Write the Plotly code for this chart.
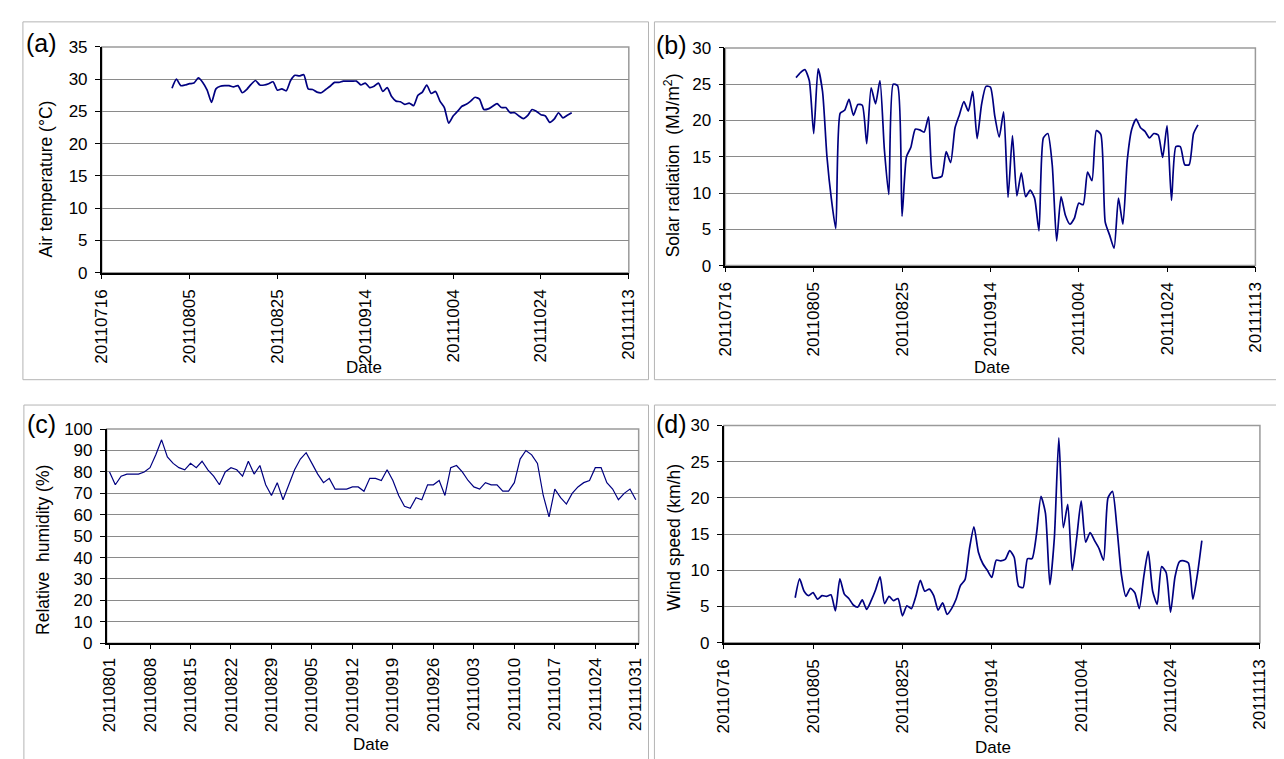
import plotly.graph_objects as go
import pandas as pd

W, H = 1284, 759

# ---------------- data ----------------
dates = pd.date_range("2011-08-01", "2011-10-31", freq="D")
date_labels = [d.strftime("%Y%m%d") for d in dates]

air_temp = [
    28.6, 30.0, 29.0, 29.1, 29.3, 29.4, 30.2, 29.5, 28.3, 26.4,
    28.5, 28.9, 29.0, 29.0, 28.8, 29.0, 27.9, 28.4, 29.2, 29.8,
    29.1, 29.1, 29.3, 29.6, 28.3, 28.5, 28.2, 29.8, 30.6, 30.5,
    30.7,
    28.5, 28.4, 28.0, 27.9, 28.4, 28.9, 29.5, 29.5, 29.7, 29.7,
    29.7, 29.7, 29.1, 29.4, 28.7, 28.9, 29.4, 28.1, 28.7, 27.3,
    26.6, 26.5, 26.1, 26.3, 25.9, 27.5, 28.0, 29.1, 27.8, 28.1,
    26.6, 25.6, 23.2, 24.3, 25.0, 25.8, 26.1, 26.6, 27.2, 26.9,
    25.3, 25.4, 25.8, 26.2, 25.6, 25.6, 24.8, 24.8, 24.3, 23.9,
    24.4, 25.3, 25.0, 24.5, 24.3, 23.3, 23.8, 24.8, 24.0, 24.4,
    24.8,
]

solar = [
    25.9, 26.6, 27.0, 25.5, 18.2, 27.1, 24.0, 15.0, 9.2, 5.1,
    21.0, 21.4, 22.9, 20.7, 22.2, 22.1, 16.8, 24.5, 22.3, 25.5,
    16.0, 9.8, 25.0, 24.8, 6.8, 15.0, 16.3, 18.8, 18.7, 18.4,
    20.5,
    12.1, 12.1, 12.3, 15.7, 14.2, 19.0, 20.8, 22.6, 21.3, 24.0,
    17.5, 22.2, 24.7, 24.6, 20.6, 17.7, 21.2, 9.4, 17.9, 9.6,
    12.8, 9.5, 10.4, 9.3, 4.8, 17.6, 18.2, 13.9, 3.4, 9.5,
    6.9, 5.7, 6.5, 8.6, 8.4, 12.9, 11.7, 18.6, 18.1, 6.0,
    4.2, 2.4, 9.3, 5.7, 14.6, 18.8, 20.2, 19.0, 18.5, 17.6,
    18.2, 18.0, 14.9, 19.3, 9.0, 16.4, 16.4, 13.9, 13.9, 18.2,
    19.4,
]

humidity = [
    80, 74, 78, 79, 79, 79, 80, 82, 88, 95,
    87, 84, 82, 81, 84, 82, 85, 81, 78, 74,
    80, 82, 81, 78, 85, 79, 83, 74, 69, 75,
    67, 74, 81, 86, 89, 84, 79, 75, 77, 72,
    72, 72, 73, 73, 71, 77, 77, 76, 81, 76,
    69, 64, 63, 68, 67, 74, 74, 76, 69, 82,
    83, 80, 76, 73, 72, 75, 74, 74, 71, 71,
    75, 86, 90, 88, 84, 69, 59, 72, 68, 65,
    70, 73, 75, 76, 82, 82, 75, 72, 67, 70,
    72, 67,
]

wind = [
    6.2, 8.8, 7.1, 6.5, 6.9, 6.0, 6.5, 6.4, 6.6, 4.4,
    8.8, 6.7, 6.1, 5.2, 4.9, 5.9, 4.6, 5.8, 7.3, 9.1,
    5.4, 6.4, 5.8, 6.1, 3.7, 5.1, 4.7, 6.4, 8.6, 7.1,
    7.4,
    6.5, 4.5, 5.5, 3.9, 4.7, 6.0, 7.9, 8.7, 13.0, 16.0,
    12.5, 10.9, 10.0, 9.0, 11.4, 11.3, 11.5, 12.7, 11.8, 7.8,
    7.6, 11.6, 11.6, 15.0, 20.2, 17.9, 8.0, 14.5, 28.3, 15.9,
    19.1, 10.0, 14.5, 19.6, 13.9, 15.2, 14.1, 13.0, 11.4, 20.0,
    20.9, 15.9, 9.4, 6.4, 7.5, 6.9, 4.7, 9.1, 12.6, 7.1,
    5.3, 10.5, 9.7, 4.2, 9.1, 11.2, 11.3, 11.0, 6.0, 9.4,
    14.1,
]

date_ticks = ["2011-07-16", "2011-08-05", "2011-08-25", "2011-09-14",
              "2011-10-04", "2011-10-24", "2011-11-13"]
date_tick_labels = ["20110716", "20110805", "20110825", "20110914",
                    "20111004", "20111024", "20111113"]
humidity_tick_labels = date_labels[::7]

# ---------------- style ----------------
FONT = "Liberation Sans, Arial, sans-serif"
LINE = "#000080"
GRID = "#8a8a8a"

def px_x(v):
    return v / W

def px_y(v):
    return 1 - v / H

fig = go.Figure()
fig.add_trace(go.Scatter(x=dates, y=air_temp, mode="lines",
                         line=dict(color=LINE, width=1.7, shape="spline", smoothing=0.6),
                         xaxis="x", yaxis="y"))
fig.add_trace(go.Scatter(x=dates, y=solar, mode="lines",
                         line=dict(color=LINE, width=1.7, shape="spline", smoothing=0.6),
                         xaxis="x2", yaxis="y2"))
fig.add_trace(go.Scatter(x=date_labels, y=humidity, mode="lines",
                         line=dict(color=LINE, width=1.2),
                         xaxis="x3", yaxis="y3"))
fig.add_trace(go.Scatter(x=dates, y=wind, mode="lines",
                         line=dict(color=LINE, width=1.7, shape="spline", smoothing=0.6),
                         xaxis="x4", yaxis="y4"))

def xdate(domain, anchor):
    return dict(domain=domain, anchor=anchor, type="date",
                range=[date_ticks[0], date_ticks[-1]],
                tickmode="array", tickvals=date_ticks, ticktext=date_tick_labels,
                tickangle=-90, ticks="outside", ticklen=5, tickcolor="black",
                showline=True, linecolor="black", linewidth=1.5,
                showgrid=False, zeroline=False,
                tickfont=dict(family=FONT, size=17, color="black"),
                ticklabelstandoff=3, fixedrange=True)

def ylin(domain, anchor, top, step):
    return dict(domain=domain, anchor=anchor, range=[0, top], dtick=step,
                tick0=0, ticks="outside", ticklen=5, tickcolor="black",
                showline=True, linecolor="black", linewidth=1.5,
                showgrid=True, gridcolor=GRID, gridwidth=1, zeroline=False,
                tickfont=dict(family=FONT, size=17, color="black"),
                ticklabelstandoff=4, fixedrange=True)

dom_a_x = [px_x(86), px_x(621)]
dom_a_y = [px_y(262.3), px_y(30.7)]
dom_b_x = [px_x(719), px_x(1257)]
dom_b_y = [px_y(255), px_y(31.7)]
dom_c_x = [px_x(91), px_x(631)]
dom_c_y = [px_y(642.3), px_y(422.7)]
dom_d_x = [px_x(717.3), px_x(1261.6)]
dom_d_y = [px_y(641.7), px_y(419)]

layout = dict(
    width=W, height=H, margin=dict(l=0, r=0, t=0, b=0),
    paper_bgcolor="white", plot_bgcolor="white", showlegend=False,
    font=dict(family=FONT, color="black"),
    xaxis=xdate(dom_a_x, "y"),
    yaxis=ylin(dom_a_y, "x", 35, 5),
    xaxis2=xdate(dom_b_x, "y2"),
    yaxis2=ylin(dom_b_y, "x2", 30, 5),
    xaxis3=dict(domain=dom_c_x, anchor="y3", type="category",
                range=[-0.5, len(date_labels) - 0.5],
                tickmode="array", tickvals=humidity_tick_labels,
                ticktext=humidity_tick_labels, tickangle=-90,
                ticks="outside", ticklen=4, tickcolor="black",
                showline=True, linecolor="black", linewidth=1.5,
                showgrid=False, zeroline=False,
                tickfont=dict(family=FONT, size=17, color="black"),
                ticklabelstandoff=2, fixedrange=True),
    yaxis3=ylin(dom_c_y, "x3", 100, 10),
    xaxis4=xdate(dom_d_x, "y4"),
    yaxis4=ylin(dom_d_y, "x4", 30, 5),
)
fig.update_layout(**layout)

shapes = []
# plot-area frames (grey top/right edges)
for xr, yr in [("x", "y"), ("x2", "y2"), ("x3", "y3"), ("x4", "y4")]:
    shapes.append(dict(type="rect", xref=f"{xr} domain", yref=f"{yr} domain",
                       x0=0, x1=1, y0=0, y1=1, layer="below",
                       line=dict(color="#9a9a9a", width=1.5)))
# outer panel boxes
for x0, x1, y0, y1 in [(6, 641, 5, 372), (647, 1290, 5, 372),
                       (7, 641, 398, 770), (647, 1290, 398, 770)]:
    shapes.append(dict(type="rect", xref="paper", yref="paper",
                       x0=px_x(x0), x1=px_x(x1), y0=px_y(y1), y1=px_y(y0),
                       line=dict(color="#b4b4b4", width=1)))
fig.update_layout(shapes=shapes)

ann = []
def text(x, y, s, size=16, angle=0):
    ann.append(dict(x=px_x(x), y=px_y(y), xref="paper", yref="paper", text=s,
                    showarrow=False, textangle=angle, xanchor="center",
                    yanchor="middle", font=dict(family=FONT, size=size, color="black")))

# panel letters
text(25, 27, "(a)", 25)
text(664, 29, "(b)", 25)
text(25, 417, "(c)", 25)
text(664, 417, "(d)", 25)
# y-axis titles
text(29, 166, "Air temperature (°C)", 17.5, -90)
text(665, 152, "Solar radiation  (MJ/m<sup>2</sup>)", 17.5, -90)
text(27, 547, "Relative  humidity (%)", 17.5, -90)
text(666, 534, "Wind speed (km/h)", 17.5, -90)
# x-axis titles
text(352, 360, "Date", 17)
text(990, 360, "Date", 17)
text(359, 746, "Date", 17)
text(991, 749, "Date", 17)
fig.update_layout(annotations=ann)

fig.write_html("out.html")
